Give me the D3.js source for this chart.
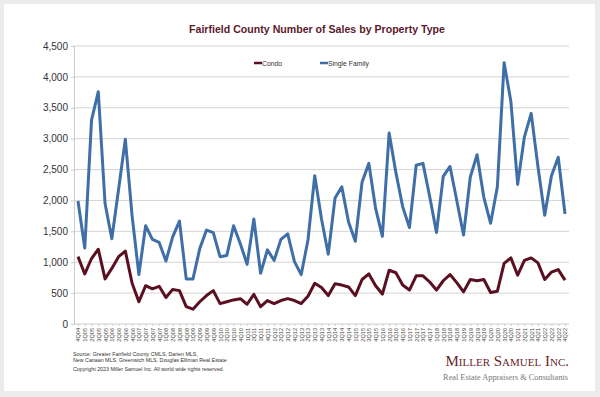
<!DOCTYPE html>
<html>
<head>
<meta charset="utf-8">
<script src="https://cdn.jsdelivr.net/npm/d3@7"></script>
<style>
  body { margin: 0; background: #ececec; }
  svg { display: block; font-family: "Liberation Sans", Arial, sans-serif; }
</style>
</head>
<body>
<div id="chart"></div>
<script>
// quarters 4Q04 .. 4Q22
var quarters = [];
for (var y = 4; y <= 22; y++) {
  for (var q = 1; q <= 4; q++) {
    if (y === 4 && q < 4) continue;
    quarters.push(q + "Q" + (y < 10 ? "0" + y : y));
  }
}

var condo = [1090, 810, 1060, 1210, 730, 900, 1090, 1180, 660, 360,
             620, 570, 610, 430, 560, 540, 280, 240, 360, 460,
             540, 330, 360, 390, 410, 320, 480, 280, 380, 330,
             380, 410, 380, 330, 450, 660, 590, 460, 650, 630,
             600, 460, 720, 810, 620, 485, 870, 830, 630, 550,
             780, 780, 680, 550, 700, 800, 670, 520, 720, 700,
             720, 510, 530, 980, 1070, 790, 1030, 1070, 990, 720,
             840, 880, 710];

var singleFamily = [1990, 1230, 3300, 3760, 1950, 1380, 2180, 2990, 1750, 800,
                    1590, 1370, 1320, 1020, 1410, 1665, 730, 730, 1220, 1520,
                    1480, 1090, 1110, 1590, 1300, 965, 1700, 820, 1200, 1030,
                    1370, 1460, 1010, 800, 1360, 2400, 1700, 1130, 2040, 2220,
                    1650, 1340, 2300, 2600, 1870, 1420, 3090, 2450, 1900, 1560,
                    2570, 2600, 2060, 1480, 2390, 2550, 2000, 1440, 2380, 2740,
                    2050, 1630, 2220, 4230, 3600, 2260, 3030, 3410, 2550, 1760,
                    2400, 2700, 1780];

var yTicks = [0, 500, 1000, 1500, 2000, 2500, 3000, 3500, 4000, 4500];

var W = 600, H = 397;
var svg = d3.select("#chart").append("svg").attr("width", W).attr("height", H);

svg.append("rect").attr("x", 4).attr("y", 4).attr("width", 591).attr("height", 387)
  .attr("fill", "#fff");

var plotLeft = 74, plotRight = 569, plotTop = 46, plotBottom = 324;

var x = d3.scalePoint().domain(quarters).range([78, 565]);
var yScale = d3.scaleLinear().domain([0, 4500]).range([plotBottom, plotTop]);

// gridlines
svg.append("g").selectAll("line").data(yTicks.slice(1)).enter().append("line")
  .attr("x1", plotLeft).attr("x2", plotRight)
  .attr("y1", function(d) { return yScale(d); }).attr("y2", function(d) { return yScale(d); })
  .attr("stroke", "#d4d4d4").attr("stroke-width", 1);

// y axis
var yAxis = svg.append("g").attr("transform", "translate(" + plotLeft + ",0)")
  .call(d3.axisLeft(yScale).tickValues(yTicks).tickFormat(d3.format(",")).tickSize(3));
yAxis.select(".domain").attr("stroke", "#ccc");
yAxis.selectAll(".tick line").attr("stroke", "#ccc");
yAxis.selectAll("text").attr("font-size", 10).attr("fill", "#333")
  .attr("font-family", "Liberation Sans, Arial, sans-serif").attr("x", -6);

// x axis
var xAxis = svg.append("g").attr("transform", "translate(0," + plotBottom + ")")
  .call(d3.axisBottom(x).tickSize(2).tickSizeOuter(0));
xAxis.select(".domain").attr("stroke", "#ccc").attr("d", "M" + plotLeft + ",0H" + plotRight);
xAxis.selectAll(".tick line").attr("stroke", "#ccc");
xAxis.selectAll("text")
  .attr("font-size", 5.6).attr("fill", "#444")
  .attr("font-family", "Liberation Sans, Arial, sans-serif")
  .attr("text-anchor", "end")
  .attr("transform", "rotate(-90)")
  .attr("x", -4).attr("y", 0).attr("dy", "0.35em");

// lines
var line = d3.line()
  .x(function(d, i) { return x(quarters[i]); })
  .y(function(d) { return yScale(d); });

svg.append("path").datum(singleFamily).attr("d", line)
  .attr("fill", "none").attr("stroke", "#3f6fa6").attr("stroke-width", 3)
  .attr("stroke-linejoin", "round");
svg.append("path").datum(condo).attr("d", line)
  .attr("fill", "none").attr("stroke", "#5a1020").attr("stroke-width", 3)
  .attr("stroke-linejoin", "round");

// title
svg.append("text").attr("x", 317).attr("y", 33).attr("text-anchor", "middle")
  .attr("font-size", 10.6).attr("font-weight", "bold").attr("fill", "#5c1a2c")
  .text("Fairfield County Number of Sales by Property Type");

// legend
var legend = [["Condo", "#5a1020", 254], ["Single Family", "#3f6fa6", 320]];
legend.forEach(function(l) {
  svg.append("line").attr("x1", l[2]).attr("x2", l[2] + 8).attr("y1", 63).attr("y2", 63)
    .attr("stroke", l[1]).attr("stroke-width", 2.5);
  svg.append("text").attr("x", l[2] + 8).attr("y", 65.5).attr("font-size", 6.8)
    .attr("fill", "#333").text(l[0]);
});

// footer
var notes = ["Source:  Greater Fairfield County CMLS, Darien MLS,",
             "New Canaan MLS, Greenwich MLS, Douglas Elliman Real Estate"];
notes.forEach(function(t, i) {
  svg.append("text").attr("x", 73).attr("y", 356 + i * 6).attr("font-size", 5.3)
    .attr("fill", "#333").text(t);
});
svg.append("text").attr("x", 73).attr("y", 371).attr("font-size", 5.3)
  .attr("fill", "#333").text("Copyright 2023 Miller Samuel Inc.  All world wide rights reserved.");

svg.append("text").attr("x", 569).attr("y", 366).attr("text-anchor", "end")
  .attr("font-family", "Liberation Serif, Times New Roman, serif")
  .attr("font-size", 15).attr("fill", "#6b1f2c").style("font-variant", "small-caps")
  .text("Miller Samuel Inc.");
svg.append("text").attr("x", 568).attr("y", 380).attr("text-anchor", "end")
  .attr("font-family", "Liberation Serif, Times New Roman, serif")
  .attr("font-size", 8.3).attr("fill", "#777")
  .text("Real Estate Appraisers & Consultants");
</script>
</body>
</html>
